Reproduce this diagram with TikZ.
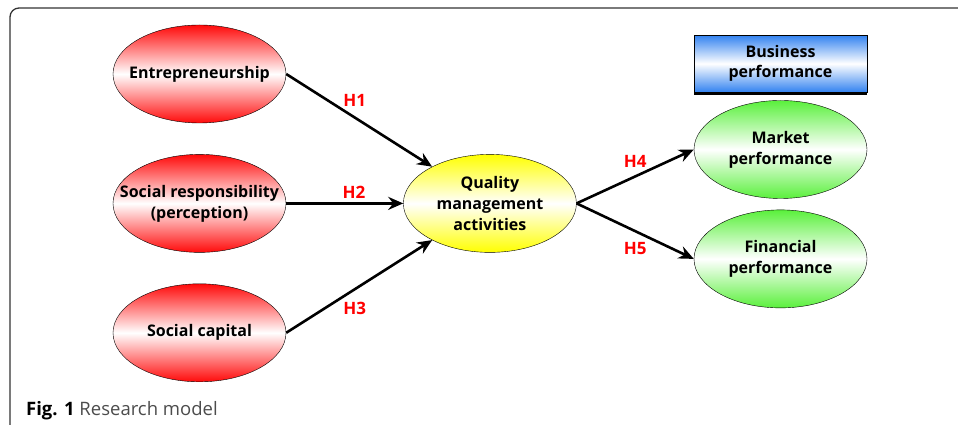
\documentclass[tikz,border=0pt]{standalone}
\usepackage{fontspec}
\setmainfont{Open Sans}
\usetikzlibrary{shapes.geometric, positioning, arrows.meta, shadows}

\definecolor{cred}{RGB}{255,10,10}
\definecolor{cgreen}{RGB}{90,240,60}
\definecolor{cyellow}{RGB}{255,255,0}
\definecolor{cblue}{RGB}{50,130,240}
\definecolor{hred}{RGB}{255,0,0}

\tikzset{
	construct/.style={ellipse, draw, thin, minimum width=173pt, minimum height=98pt,
		inner xsep=-30pt, inner ysep=0pt, align=center, font=\fontsize{16}{21}\selectfont\bfseries},
	cause/.style={construct, top color=cred, bottom color=cred, middle color=white},
	mediator/.style={construct, top color=cyellow, bottom color=cyellow, middle color=white},
	outcome/.style={construct, top color=cgreen, bottom color=cgreen, middle color=white},
	hyp/.style={text=hred, font=\fontsize{17}{20}\selectfont\bfseries},
	path/.style={line width=2.6pt, -{Stealth[length=15pt, width=13pt, inset=5pt]}}
}

\begin{document}
\begin{tikzpicture}[x=1pt, y=1pt]
	\useasboundingbox (0,0) rectangle (958,425);
	\draw[line width=1.3pt, black!80, rounded corners=9pt] (958,417) -- (10,417) -- (10,0);

	\node[cause] (ent) at (199.5,351) {Entrepreneurship};
	\node[cause, below=31pt of ent] (soc) {Social responsibility\\(perception)};
	\node[cause, below=31pt of soc] (cap) {Social capital};
	\node[mediator, right=117pt of soc] (qual) {Quality\\management\\activities};
	\node[outcome] (mkt) at (780.5,275.5) {Market\\performance};
	\node[outcome, below=11pt of mkt] (fin) {Financial\\performance};
	\node[draw, thin, minimum width=173pt, minimum height=57pt, align=center,
		top color=cblue, bottom color=cblue, middle color=white,
		drop shadow={shadow xshift=0pt, shadow yshift=-2.5pt, fill=black, opacity=1},
		font=\fontsize{16}{20}\selectfont\bfseries, above=8pt of mkt] (bus) {Business\\performance};

	\draw[path] (ent.east) -- node[hyp, pos=0.47, above=6pt] (h1) {H1} (qual);
	\draw[path] (soc.east) -- node[hyp, pos=0.58, above] (h2) {H2} (qual.west);
	\draw[path] (cap.east) -- node[hyp, pos=0.47, below=8pt] (h3) {H3} (qual);
	\draw[path] (qual.east) -- node[hyp, pos=0.5, above=4pt] (h4) {H4} (mkt.west);
	\draw[path] (qual.east) -- node[hyp, pos=0.5, below=7pt] (h5) {H5} (fin.west);

	\node[anchor=base west, font=\fontsize{18.5}{20}\selectfont, inner sep=0pt] (caption) at (26,9)
		{\textbf{Fig. 1} {\color{black!70}Research model}};
\end{tikzpicture}
\end{document}
